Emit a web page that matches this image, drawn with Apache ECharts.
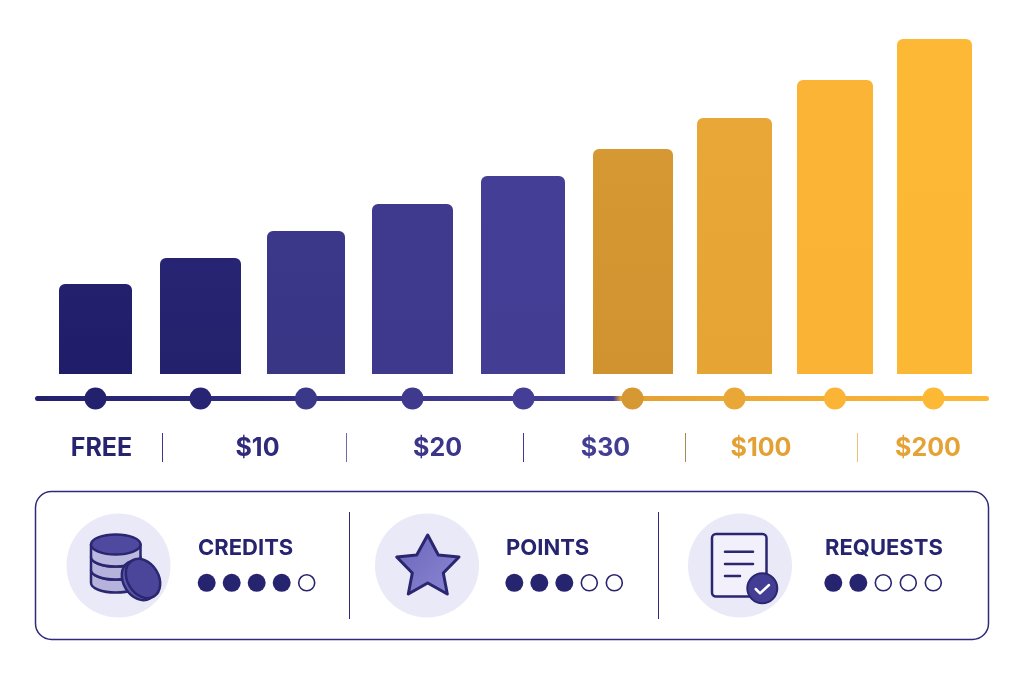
<!DOCTYPE html>
<html>
<head>
<meta charset="utf-8">
<style>html,body{margin:0;padding:0;background:#fff}#c{width:1024px;height:683px}</style>
<script src="https://cdn.jsdelivr.net/npm/echarts@6/dist/echarts.min.js"></script>
</head>
<body>
<div id="c"></div>
<script>
// ---- data ----
const barValues = [90, 116, 143, 170, 198, 225, 256, 294, 335];
const tierLabels = ['FREE', '$10', '$20', '$30', '$100', '$200'];
const featureNames = ['CREDITS', 'POINTS', 'REQUESTS'];
const featureRatings = [4, 3, 2];
const ratingMax = 5;

// ---- layout and style ----
const barCentres = [95.5, 200.5, 306, 412.5, 523, 633, 734.5, 835, 934.5];
const barWidths = [73, 81, 78, 81, 84, 80, 75, 76, 75];
const dotCentres = [95.5, 200.5, 306, 412.5, 523.5, 632.5, 734.5, 835, 933.5];
const barTop = ['#23206e', '#272473', '#3b3789', '#3f3a8e', '#443e96', '#d69832', '#e9a737', '#fbb436', '#fdb935'];
const barBot = ['#1f1d68', '#24216c', '#3a3686', '#3e398c', '#433d94', '#d19330', '#e6a435', '#fab335', '#fcb834'];
const tierX = [101.5, 257.5, 437.5, 605.5, 761, 928];
const tierColor = ['#26236f', '#2f2b7a', '#3b3689', '#433d94', '#e3a033', '#e5a235'];
const dividerX = [162.5, 346.5, 523.5, 685.5, 857.5];
const dividerColor = ['#3a3689', '#6e6aa6', '#3f3a8e', '#a98a55', '#ecc078'];
const panelDividerX = [349.5, 658.5];
const iconX = [118.5, 427, 740];
const titleX = [198, 506, 825];
const ratingX = [206.7, 514.3, 833.3];
const INK = '#27246f';
const FONT = 'Inter, "Noto Sans", sans-serif';

const linePts = [[37.5, 398.5], [986.5, 398.5]];
const dots = dotCentres.map((x, i) => ({ value: [x, 398.5], itemStyle: { color: barTop[i], opacity: 1 } }));

const ratingDots = [];
featureRatings.forEach((r, f) => {
  for (let i = 0; i < ratingMax; i++) {
    const on = i < r;
    ratingDots.push({
      value: [ratingX[f] + i * 25, 582.8],
      symbolSize: on ? 18 : 16,
      itemStyle: on ? { color: INK, opacity: 1 } : { color: '#fff', borderColor: INK, borderWidth: 1.6, opacity: 1 }
    });
  }
});

const graphics = [
  { type: 'rect', shape: { x: 35.5, y: 491.5, width: 953, height: 148, r: 16 }, style: { fill: '#fff', stroke: '#2f2b7a', lineWidth: 1.5 }, z: 0 }
];
tierLabels.forEach((t, i) => graphics.push({
  type: 'text', x: tierX[i], y: 448.5, z: 5,
  style: { text: t, fill: tierColor[i], font: '700 25px ' + FONT, textAlign: 'center', textVerticalAlign: 'middle' }
}));
dividerX.forEach((x, i) => graphics.push({
  type: 'line', z: 5, shape: { x1: x, y1: 433, x2: x, y2: 462 }, style: { stroke: dividerColor[i], lineWidth: 1 }
}));
panelDividerX.forEach(x => graphics.push({
  type: 'line', z: 5, shape: { x1: x, y1: 512, x2: x, y2: 619 }, style: { stroke: '#2f2b7a', lineWidth: 1 }
}));
iconX.forEach(x => graphics.push({
  type: 'circle', z: 1, shape: { cx: x, cy: 565.5, r: 52 }, style: { fill: '#eae9f7' }
}));
featureNames.forEach((t, i) => graphics.push({
  type: 'text', x: titleX[i], y: 548.5, z: 5,
  style: { text: t, fill: INK, font: '700 22px ' + FONT, textAlign: 'left', textVerticalAlign: 'middle' }
}));

function p(d, fill, stroke, lw) {
  return { type: 'path', shape: { pathData: d }, style: { fill: fill || 'none', stroke: stroke || null, lineWidth: lw || 0, lineJoin: 'round', lineCap: 'round' } };
}
function renderIcons() {
  const ch = [];
  // database stack
  const L = 91, R = 140.5, RX = 24.75;
  const band = (y0, fill) => p(`M${L} ${y0}A${RX} 9.5 0 0 0 ${R} ${y0}V${y0 + 13}A${RX} 9.5 0 0 1 ${L} ${y0 + 13}Z`, fill, '#2a2670', 2.5);
  ch.push(band(570, '#b5b3dc'));
  ch.push(band(557, '#b5b3dc'));
  ch.push(p(`M${L} 544.5V557A${RX} 9.5 0 0 0 ${R} 557V544.5Z`, '#bbb9df', '#2a2670', 2.5));
  ch.push({ type: 'ellipse', shape: { cx: 115.75, cy: 544.5, rx: RX, ry: 10 }, style: { fill: '#4f49a0', stroke: '#2a2670', lineWidth: 2.5 } });
  // coin
  ch.push({ type: 'ellipse', x: 139, y: 580.5, rotation: 0.55, shape: { cx: 0, cy: 0, rx: 15.5, ry: 21 }, style: { fill: '#5f59ad', stroke: '#2a2670', lineWidth: 2.5 } });
  ch.push({ type: 'ellipse', x: 143, y: 578.5, rotation: 0.55, shape: { cx: 0, cy: 0, rx: 15.5, ry: 21 }, style: { fill: '#4c469b', stroke: '#2a2670', lineWidth: 2.5 } });
  // star
  ch.push({
    type: 'polygon',
    shape: { points: [[427.7, 535], [438.3, 555], [459, 557], [443.3, 573], [447.3, 594], [427.7, 583], [408.3, 594], [412.3, 573], [396.7, 557], [416.7, 555]] },
    style: {
      stroke: '#2a2670', lineWidth: 3, lineJoin: 'round',
      fill: new echarts.graphic.LinearGradient(0, 0, 1, 1, [{ offset: 0, color: '#6a65b8' }, { offset: 1, color: '#8c87d4' }])
    }
  });
  // document
  ch.push({ type: 'rect', shape: { x: 712, y: 534, width: 54.5, height: 62.5, r: 4 }, style: { fill: '#f1f0fb', stroke: '#2a2670', lineWidth: 2.5 } });
  [[551.7, 753], [564, 753], [576, 740]].forEach(a => ch.push({
    type: 'line', shape: { x1: 725, y1: a[0], x2: a[1], y2: a[0] }, style: { stroke: '#2a2670', lineWidth: 2.5, lineCap: 'round' }
  }));
  ch.push({ type: 'circle', shape: { cx: 762.3, cy: 588.3, r: 15 }, style: { fill: '#433d93', stroke: '#2a2670', lineWidth: 2 } });
  ch.push({ type: 'polyline', shape: { points: [[755.7, 589], [760, 593.3], [769, 585]] }, style: { fill: null, stroke: '#fff', lineWidth: 2.5, lineCap: 'round', lineJoin: 'round' } });
  return { type: 'group', children: ch };
}

const chart = echarts.init(document.getElementById('c'), null, { renderer: 'canvas' });
chart.setOption({
  animation: false,
  backgroundColor: '#fff',
  tooltip: { show: false },
  graphic: { elements: graphics },
  grid: [
    { left: 0, top: 0, width: 1024, height: 374 },
    { left: 0, top: 0, width: 1024, height: 683 }
  ],
  xAxis: [
    { type: 'value', gridIndex: 0, min: 0, max: 1024, show: false },
    { type: 'value', gridIndex: 1, min: 0, max: 1024, show: false }
  ],
  yAxis: [
    { type: 'value', gridIndex: 0, min: 0, max: 374, show: false },
    { type: 'value', gridIndex: 1, min: 0, max: 683, inverse: true, show: false }
  ],
  series: [
    {
      type: 'custom', xAxisIndex: 0, yAxisIndex: 0, z: 3,
      data: barValues.map((v, i) => [barCentres[i], v, barWidths[i], i]),
      encode: { x: 0, y: 1 },
      renderItem(params, api) {
        const x = api.value(0), v = api.value(1), w = api.value(2), i = api.value(3);
        const tl = api.coord([x - w / 2, v]);
        const br = api.coord([x + w / 2, 0]);
        return {
          type: 'rect',
          shape: { x: tl[0], y: tl[1], width: br[0] - tl[0], height: br[1] - tl[1], r: [6, 6, 0, 0] },
          style: { fill: new echarts.graphic.LinearGradient(0, 0, 0, 1, [{ offset: 0, color: barTop[i] }, { offset: 1, color: barBot[i] }]) }
        };
      }
    },
    {
      type: 'line', xAxisIndex: 1, yAxisIndex: 1, z: 3, data: linePts, symbol: 'none', silent: true,
      lineStyle: {
        width: 5, cap: 'round', opacity: 1,
        color: new echarts.graphic.LinearGradient(35, 0, 989, 0, [
          { offset: 0, color: '#23206e' },
          { offset: 0.45, color: '#3f3a8e' },
          { offset: 0.606, color: '#443e96' },
          { offset: 0.614, color: '#e3a033' },
          { offset: 0.75, color: '#eeaa36' },
          { offset: 1, color: '#fdb935' }
        ], true)
      }
    },
    {
      type: 'scatter', xAxisIndex: 1, yAxisIndex: 1, z: 4, symbol: 'circle', symbolSize: 22, silent: true, data: dots
    },
    {
      type: 'scatter', xAxisIndex: 1, yAxisIndex: 1, z: 4, symbol: 'circle', silent: true, data: ratingDots
    },
    {
      type: 'custom', xAxisIndex: 1, yAxisIndex: 1, z: 4, silent: true, data: [[0, 0]], renderItem: renderIcons
    }
  ]
});
</script>
</body>
</html>
